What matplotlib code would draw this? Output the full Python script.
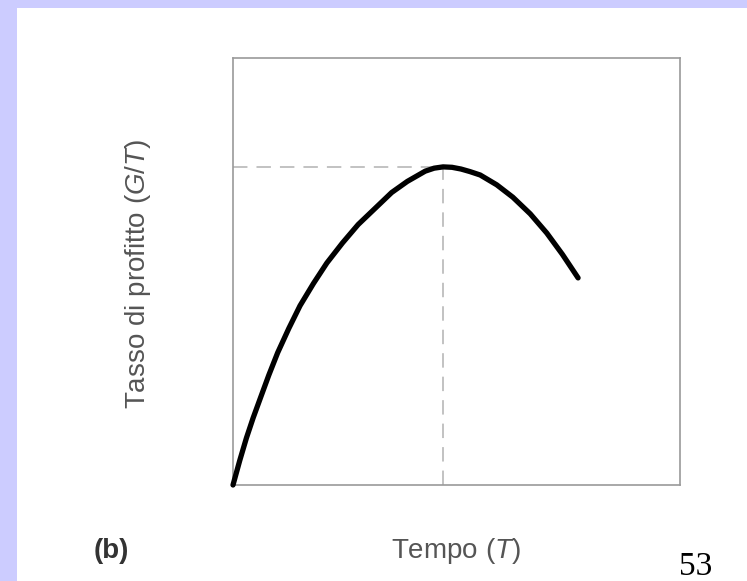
import matplotlib
matplotlib.use("Agg")
import matplotlib.pyplot as plt
from matplotlib.patches import Rectangle

# curve (time and profit rate as fractions of the axes)
tempo = [0.0, 0.015, 0.03, 0.045, 0.06, 0.08, 0.10, 0.125, 0.15, 0.18,
         0.21, 0.245, 0.28, 0.32, 0.355, 0.39, 0.43, 0.45, 0.47, 0.49,
         0.51, 0.53, 0.553, 0.59, 0.626, 0.665, 0.702, 0.737, 0.772]
tasso = [0.0, 0.057, 0.11, 0.157, 0.20, 0.257, 0.31, 0.367, 0.42, 0.472,
         0.52, 0.567, 0.61, 0.65, 0.685, 0.711, 0.735, 0.742, 0.745, 0.744,
         0.740, 0.734, 0.726, 0.703, 0.674, 0.635, 0.590, 0.540, 0.485]

t_ottimo = 0.47
g_max = 0.745

ylabel_text = "Tasso di profitto ($\\it{G/T}$)"
xlabel_text = "Tempo ($\\it{T}$)"
panel_text = "(b)"
page_text = "53"

plt.rcParams["mathtext.fontset"] = "custom"
plt.rcParams["mathtext.it"] = "Liberation Sans:italic"
plt.rcParams["mathtext.rm"] = "Liberation Sans"

W, H = 747, 581
fig = plt.figure(figsize=(W / 100, H / 100), dpi=100)
fig.patch.set_facecolor("white")

# lavender slide border (top and left)
fig.patches.append(Rectangle((0, 1 - 8 / H), 1, 8 / H, transform=fig.transFigure,
                             facecolor="#ccccff", edgecolor="none", zorder=0))
fig.patches.append(Rectangle((0, 0), 17 / W, 1, transform=fig.transFigure,
                             facecolor="#ccccff", edgecolor="none", zorder=0))

left, right, top, bottom = 233, 680, 58, 485
ax = fig.add_axes([left / W, 1 - bottom / H, (right - left) / W, (bottom - top) / H])
ax.set_xlim(0, 1)
ax.set_ylim(0, 1)
ax.set_xticks([])
ax.set_yticks([])
for sp in ax.spines.values():
    sp.set_color("#9a9a9a")
    sp.set_linewidth(1.2)

dash = (0, (8, 5))
ax.plot([0, t_ottimo], [g_max, g_max], color="#bdbdbd", lw=1.3, linestyle=dash)
ax.plot([t_ottimo, t_ottimo], [0, g_max], color="#bdbdbd", lw=1.3, linestyle=dash)
ax.plot(tempo, tasso, color="black", lw=3.8, solid_capstyle="round",
        solid_joinstyle="round", zorder=3, clip_on=False)

fig.text(138 / W, 1 - 274 / H, ylabel_text, rotation=90, ha="center", va="center",
         fontsize=20, color="#555555", family="Liberation Sans")
fig.text(456 / W, 1 - 551 / H, xlabel_text, ha="center", va="center",
         fontsize=20, color="#555555", family="Liberation Sans")
fig.text(111 / W, 1 - 551 / H, panel_text, ha="center", va="center",
         fontsize=20, color="#333333", family="Liberation Sans", fontweight="bold")
fig.text(696 / W, 1 - 575 / H, page_text, ha="center", va="baseline",
         fontsize=24, color="black", family="Liberation Serif")

fig.savefig("out.png", dpi=100)
